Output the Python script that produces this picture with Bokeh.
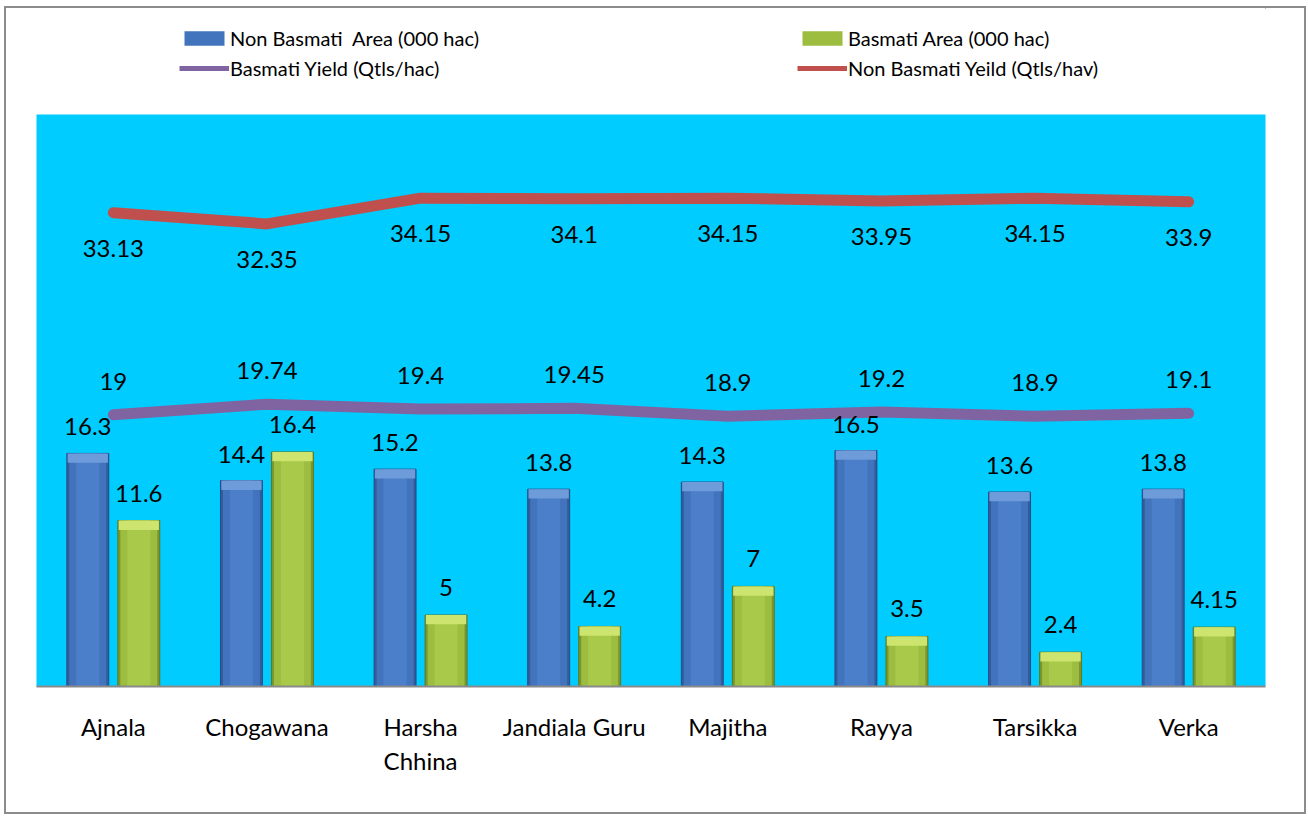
from bokeh.plotting import figure
from bokeh.layouts import column
from bokeh.models import Range1d, FixedTicker, Legend, LegendItem, ColumnDataSource
from bokeh.core.properties import value
from bokeh.embed import file_html
from bokeh.resources import INLINE

categories = ["Ajnala", "Chogawana", "Harsha Chhina", "Jandiala Guru", "Majitha", "Rayya", "Tarsikka", "Verka"]
tick_labels = ["Ajnala", "Chogawana", "Harsha\nChhina", "Jandiala Guru", "Majitha", "Rayya", "Tarsikka", "Verka"]
non_basmati_area = [16.3, 14.4, 15.2, 13.8, 14.3, 16.5, 13.6, 13.8]
basmati_area = [11.6, 16.4, 5, 4.2, 7, 3.5, 2.4, 4.15]
basmati_yield = [19, 19.74, 19.4, 19.45, 18.9, 19.2, 18.9, 19.1]
non_basmati_yield = [33.13, 32.35, 34.15, 34.1, 34.15, 33.95, 34.15, 33.9]
series_names = ["Non Basmati  Area (000 hac)", "Basmati Area (000 hac)",
                "Basmati Yield (Qtls/hac)", "Non Basmati Yeild (Qtls/hav)"]

def fmt(v):
    return ("%g" % v)

FONT = "Lato"
FS = "24px"
LFS = "20px"

BLUE = dict(edge="#325C9C", mid="#4274BD", core="#4B7FC9", cap="#6E9BDA", line="#274C84")
GREEN = dict(edge="#7A962C", mid="#9CBD40", core="#A8C94A", cap="#CDE46E", line="#5F7820")
PURPLE = "#8064A2"
RED = "#C0504D"

n = len(categories)
xs = [i + 0.5 for i in range(n)]
bw = 0.273
off = 0.166
cap = 0.65

src = ColumnDataSource(dict(
    x=xs,
    xb=[x - off for x in xs],
    xg=[x + off for x in xs],
    nb=non_basmati_area,
    ba=basmati_area,
    by=basmati_yield,
    nby=non_basmati_yield,
    nb_cap=[v - cap for v in non_basmati_area],
    ba_cap=[v - cap for v in basmati_area],
    nb_lab=[fmt(v) for v in non_basmati_area],
    ba_lab=[fmt(v) for v in basmati_area],
    by_lab=[fmt(v) for v in basmati_yield],
    nby_lab=[fmt(v) for v in non_basmati_yield],
))

W = 1298
LEG_H = 100
MAIN_H = 704

# ---------------- legend strip (series drawn outside its view; only the legend shows) ----------------
pl = figure(width=W, height=LEG_H, x_range=Range1d(-20, -19), y_range=Range1d(-20, -19),
            x_axis_type=None, y_axis_type=None, output_backend="svg", toolbar_location=None,
            min_border_left=0, min_border_right=0, min_border_top=0, min_border_bottom=0)
pl.outline_line_color = None
pl.background_fill_color = "white"
pl.border_fill_color = "white"
pl.xgrid.visible = False
pl.ygrid.visible = False
d_nb = pl.vbar(x="xb", top="nb", width=bw, source=src, fill_color=BLUE["mid"], line_color=None)
d_ba = pl.vbar(x="xg", top="ba", width=bw, source=src, fill_color=GREEN["mid"], line_color=None)
d_by = pl.line(x="x", y="by", source=src, line_color=PURPLE, line_width=5)
d_nby = pl.line(x="x", y="nby", source=src, line_color=RED, line_width=5)

leg_kw = dict(background_fill_alpha=0, border_line_alpha=0, padding=0, margin=0,
              label_text_font=FONT, label_text_font_size=LFS, label_text_color="black",
              label_standoff=1, glyph_width=50, glyph_height=18, label_height=28, spacing=2)
leg1 = Legend(items=[LegendItem(label=series_names[0], renderers=[d_nb]),
                     LegendItem(label=series_names[2], renderers=[d_by])],
              location=(143, 26), **leg_kw)
leg2 = Legend(items=[LegendItem(label=series_names[1], renderers=[d_ba]),
                     LegendItem(label=series_names[3], renderers=[d_nby])],
              location=(761, 26), **leg_kw)
pl.add_layout(leg1)
pl.add_layout(leg2)

# ---------------- main chart ----------------
p = figure(width=W, height=MAIN_H, x_range=Range1d(0, n), y_range=Range1d(0, 40),
           output_backend="svg", toolbar_location=None,
           min_border_left=30, min_border_right=39, min_border_top=6, min_border_bottom=126)
p.background_fill_color = "#00CCFF"
p.border_fill_color = "white"
p.outline_line_color = None
p.xgrid.visible = False
p.ygrid.visible = False
p.yaxis.visible = False

ax = p.xaxis[0]
ax.ticker = FixedTicker(ticks=xs)
ax.major_label_overrides = {x: lab for x, lab in zip(xs, tick_labels)}
ax.major_tick_line_color = None
ax.minor_tick_line_color = None
ax.axis_line_color = "#8a8a8a"
ax.axis_line_width = 2
ax.major_label_standoff = 19
ax.major_label_text_font = FONT
ax.major_label_text_font_size = FS
ax.major_label_text_color = "black"

def bevel_bars(xcol, topcol, capcol, c):
    p.vbar(x=xcol, top=topcol, bottom=0, width=bw, source=src, fill_color=c["edge"],
           line_color=c["line"], line_width=1)
    p.vbar(x=xcol, top=topcol, bottom=0, width=bw * 0.88, source=src, fill_color=c["mid"], line_color=None)
    p.vbar(x=xcol, top=topcol, bottom=0, width=bw * 0.55, source=src, fill_color=c["core"], line_color=None)
    p.vbar(x=xcol, top=topcol, bottom=capcol, width=bw * 0.96, source=src, fill_color=c["cap"],
           line_color=None)

bevel_bars("xb", "nb", "nb_cap", BLUE)
bevel_bars("xg", "ba", "ba_cap", GREEN)

p.line(x="x", y="by", source=src, line_color=PURPLE, line_width=11, line_cap="round", line_join="round")
p.line(x="x", y="nby", source=src, line_color=RED, line_width=11, line_cap="round", line_join="round")

common = dict(source=src, text_font=value(FONT), text_font_size=FS, text_color="black", text_align="center")
p.text(x="xb", y="nb", text="nb_lab", text_baseline="bottom", y_offset=-18, **common)
p.text(x="xg", y="ba", text="ba_lab", text_baseline="bottom", y_offset=-19, **common)
p.text(x="x", y="by", text="by_lab", text_baseline="bottom", y_offset=-25, **common)
p.text(x="x", y="nby", text="nby_lab", text_baseline="top", y_offset=27, **common)

layout = column(pl, p, spacing=0)
layout.styles = {"border": "2px solid #8c8c8c", "margin-left": "4px", "margin-top": "6px"}

open("out.html", "w").write(file_html(layout, INLINE))
